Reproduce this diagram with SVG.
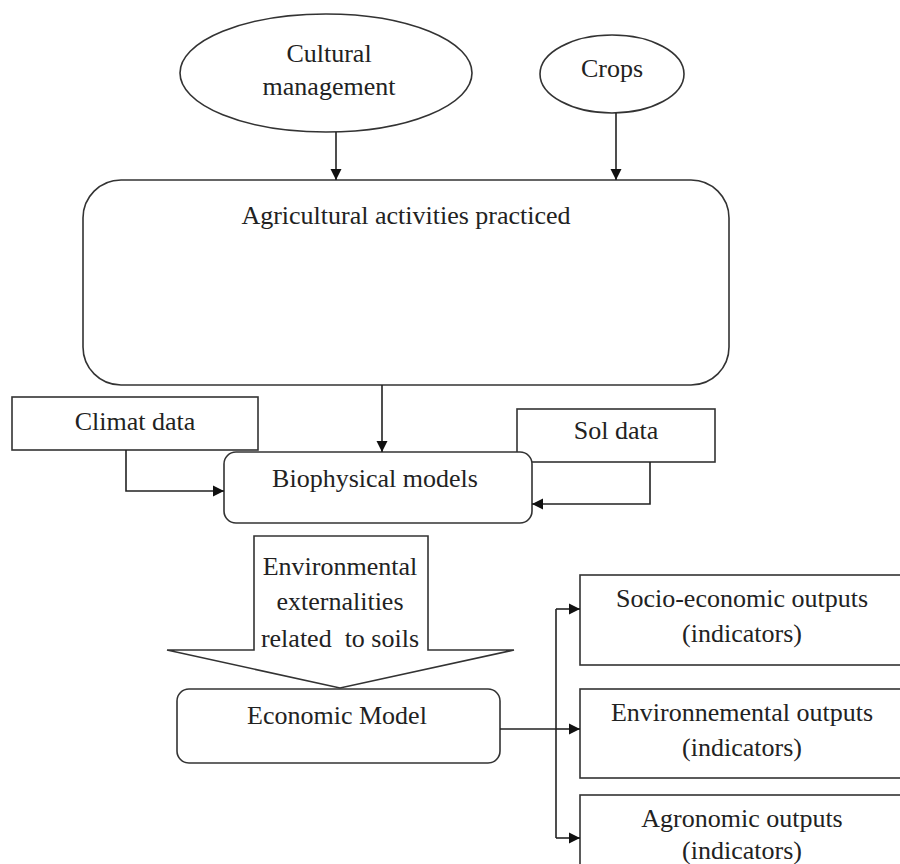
<svg xmlns="http://www.w3.org/2000/svg" width="900" height="864" viewBox="0 0 900 864">
<defs>
<style>
.s{fill:#fff;stroke:#333;stroke-width:1.6}
.c{fill:none;stroke:#222;stroke-width:1.6}
text{font-family:"Liberation Serif","Times New Roman",serif;font-size:26px;fill:#222;text-anchor:middle}
</style>
<marker id="ah" markerWidth="12" markerHeight="12" refX="11" refY="6" orient="auto" markerUnits="userSpaceOnUse">
<path d="M0,0.5 L11,6 L0,11.5 Z" fill="#111"/>
</marker>
</defs>
<rect width="900" height="864" fill="#fff"/>
<g id="cultural">
<ellipse class="s" cx="326" cy="73" rx="146" ry="59"/>
<text x="329" y="62">Cultural</text>
<text x="329" y="95">management</text>
</g>
<g id="crops">
<ellipse class="s" cx="612" cy="74" rx="72" ry="39"/>
<text x="612" y="77">Crops</text>
</g>
<g id="agri">
<rect class="s" x="83" y="180" width="646" height="205" rx="38"/>
<text x="406" y="224">Agricultural activities practiced</text>
</g>
<g id="climat">
<rect class="s" x="12" y="397" width="246" height="53"/>
<text x="135" y="430">Climat data</text>
</g>
<g id="sol">
<rect class="s" x="517" y="409" width="198" height="53"/>
<text x="616" y="439">Sol data</text>
</g>
<g id="bio">
<rect class="s" x="224" y="452" width="308" height="71" rx="12"/>
<text x="375" y="487">Biophysical models</text>
</g>
<g id="externalities">
<polygon class="s" points="254,536 428,536 428,650 514,650 340,688 167,650 254,650"/>
<text x="340" y="575">Environmental</text>
<text x="340" y="610">externalities</text>
<text x="340" y="647" xml:space="preserve">related  to soils</text>
</g>
<g id="economic">
<rect class="s" x="177" y="689" width="323" height="74" rx="12"/>
<text x="337" y="724">Economic Model</text>
</g>
<g id="socio">
<rect class="s" x="580" y="575" width="330" height="90"/>
<text x="742" y="607">Socio-economic outputs</text>
<text x="742" y="642">(indicators)</text>
</g>
<g id="envout">
<rect class="s" x="580" y="689" width="330" height="89"/>
<text x="742" y="721">Environnemental outputs</text>
<text x="742" y="756">(indicators)</text>
</g>
<g id="agro">
<rect class="s" x="580" y="795" width="330" height="90"/>
<text x="742" y="827">Agronomic outputs</text>
<text x="742" y="859">(indicators)</text>
</g>
<g id="connectors">
<path class="c" d="M336,132 V180" marker-end="url(#ah)"/>
<path class="c" d="M616,113 V180" marker-end="url(#ah)"/>
<path class="c" d="M382,385 V452" marker-end="url(#ah)"/>
<path class="c" d="M126,450 V491 H224" marker-end="url(#ah)"/>
<path class="c" d="M650,462 V504 H532" marker-end="url(#ah)"/>
<path class="c" d="M500,729 H556"/>
<path class="c" d="M556,609 V838"/>
<path class="c" d="M556,609 H580" marker-end="url(#ah)"/>
<path class="c" d="M556,729 H580" marker-end="url(#ah)"/>
<path class="c" d="M556,838 H580" marker-end="url(#ah)"/>
</g>
</svg>
